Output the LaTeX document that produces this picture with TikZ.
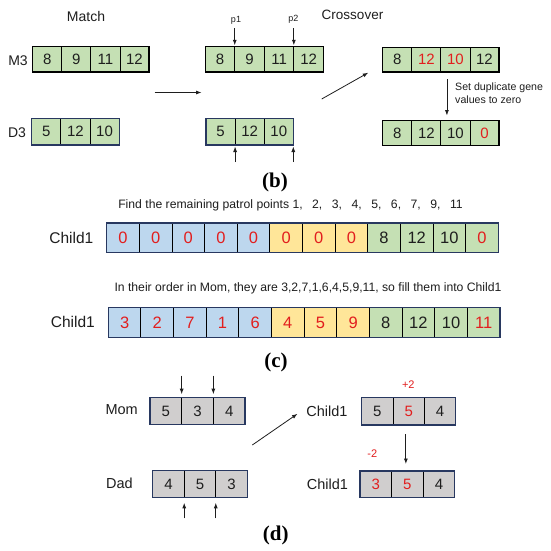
\documentclass[tikz,border=0pt]{standalone}
\usepackage{fontspec}
\setmainfont{Liberation Sans}
\newfontfamily\serifbold{Liberation Serif}
\usetikzlibrary{arrows.meta,calc}
\definecolor{cgreen}{RGB}{197,224,180}
\definecolor{cblue}{RGB}{189,215,238}
\definecolor{cyellow}{RGB}{255,230,153}
\definecolor{cgray}{RGB}{208,206,206}
\definecolor{cred}{RGB}{226,30,30}
\definecolor{cnavy}{RGB}{40,56,96}
\definecolor{ctext}{RGB}{30,30,30}
\newcommand\fwc{,\hspace{0.78em}}
% #1 prefix, #2 x0, #3 ytop, #4 cell width, #5 cell height, #6 font, #7 list fill/colour/value
\newcommand\cellrow[7]{%
  \foreach \cf/\cc/\cv [count=\ci] in {#7} {
    \node[cell, fill=\cf, text=\cc, font=#6, minimum width=#4pt, minimum height=#5pt,
          anchor=north west] (#1\ci) at ({#2+(\ci-1)*#4}, #3) {\cv};
  }%
}
\begin{document}
\begin{tikzpicture}[x=1pt,y=-1pt,
  cell/.style={draw=black, line width=0.9pt, inner sep=0pt, outer sep=0pt},
  rowblack/.style={draw=black, line width=1.2pt},
  rownavy/.style={draw=cnavy, line width=1.2pt},
  arr/.style={draw=ctext, line width=0.8pt, -{Latex[length=5.5pt,width=4pt]}},
  lab/.style={text=ctext, inner sep=0pt, font=\fontsize{14}{16}\selectfont},
  small/.style={text=ctext, inner sep=0pt, font=\fontsize{9}{11}\selectfont},
  note/.style={text=ctext, inner sep=0pt, font=\fontsize{12.2}{14}\selectfont},
  caption/.style={inner sep=0pt, font=\serifbold\bfseries\fontsize{21}{24}\selectfont},
  redmark/.style={text=cred, inner sep=0pt, font=\fontsize{11}{13}\selectfont}
]
\useasboundingbox[fill=white] (0,0) rectangle (550,551);

% ---------------- (b) ----------------
\node[lab, font=\fontsize{14}{16}\selectfont] (match) at (86,16) {Match};
\node[lab, font=\fontsize{13.5}{16}\selectfont] (cross) at (352.5,15) {Crossover};

\node[lab] (m3) at (18,60.5) {M3};
\node[lab] (d3) at (17,133) {D3};

\cellrow{ml}{32.8}{46.3}{29.05}{25.7}{\fontsize{15}{18}\selectfont}
  {cgreen/ctext/8, cgreen/ctext/9, cgreen/ctext/11, cgreen/ctext/12}
\draw[rowblack] (ml1.north west) rectangle (ml4.south east);

\cellrow{dl}{31.8}{118.3}{29.1}{26.7}{\fontsize{15}{18}\selectfont}
  {cgreen/ctext/5, cgreen/ctext/12, cgreen/ctext/10}
\draw[rownavy] (dl1.north west) rectangle (dl3.south east);

\coordinate (mstart) at (154.5,92.5);
\coordinate (mend) at (201.5,92.5);
\draw[arr] (mstart) -- (mend);

\cellrow{mm}{205.2}{46.3}{29.55}{25.7}{\fontsize{15}{18}\selectfont}
  {cgreen/ctext/8, cgreen/ctext/9, cgreen/ctext/11, cgreen/ctext/12}
\draw[rowblack] (mm1.north west) rectangle (mm4.south east);

\cellrow{dm}{206}{118.3}{29.1}{26.7}{\fontsize{15}{18}\selectfont}
  {cgreen/ctext/5, cgreen/ctext/12, cgreen/ctext/10}
\draw[rownavy] (dm1.north west) rectangle (dm3.south east);

\node[small] (p1) at (236,20.5) {p1};
\node[small] (p2) at (293.3,19.5) {p2};
\draw[arr] ($(mm1.north east)+(0,-18)$) -- ($(mm1.north east)+(0,-1)$);
\draw[arr] ($(mm3.north east)+(0,-18)$) -- ($(mm3.north east)+(0,-1)$);
\draw[arr] ($(dm1.south east)+(0,17)$) -- ($(dm1.south east)+(0,1.5)$);
\draw[arr] ($(dm3.south east)+(0,17)$) -- ($(dm3.south east)+(0,1.5)$);

\coordinate (dstart) at (321.7,99);
\coordinate (dend) at (368.3,72.7);
\draw[arr] (dstart) -- (dend);

\cellrow{ra}{382.8}{47.3}{29.05}{24.7}{\fontsize{15}{18}\selectfont}
  {cgreen/ctext/8, cgreen/cred/12, cgreen/cred/10, cgreen/ctext/12}
\draw[rowblack] (ra1.north west) rectangle (ra4.south east);

\cellrow{rb}{382.8}{120.5}{29.05}{24.7}{\fontsize{15}{18}\selectfont}
  {cgreen/ctext/8, cgreen/ctext/12, cgreen/ctext/10, cgreen/cred/0}
\draw[rowblack] (rb1.north west) rectangle (rb4.south east);

\coordinate (sdtop) at ($(ra3.south west)+(6,7)$);
\draw[arr] (sdtop) -- ($(sdtop |- rb3.north)+(0,-5)$);
\node[text=ctext, inner sep=0pt, anchor=west, align=left,
      font=\fontsize{10.6}{13.2}\selectfont] (setdup) at (455,93)
      {Set duplicate gene\\values to zero};

\node[caption] (capb) at (275,182) {(b)};

% ---------------- (c) ----------------
\node[note] (find) at (290.5,205.5)
  {Find the remaining patrol points 1\fwc 2\fwc 3\fwc 4\fwc 5\fwc 6\fwc 7\fwc 9\fwc 11};
\node[lab, font=\fontsize{15.5}{18}\selectfont] (ch1) at (71.3,238) {Child1};
\cellrow{ca}{106.7}{223}{32.63}{29.3}{\fontsize{16.5}{19}\selectfont}
  {cblue/cred/0, cblue/cred/0, cblue/cred/0, cblue/cred/0, cblue/cred/0,
   cyellow/cred/0, cyellow/cred/0, cyellow/cred/0,
   cgreen/ctext/8, cgreen/ctext/12, cgreen/ctext/10, cgreen/cred/0}
\draw[rownavy] (ca1.north west) rectangle (ca12.south east);

\node[note] (order) at (308,288.3)
  {In their order in Mom, they are 3,2,7,1,6,4,5,9,11, so fill them into Child1};
\node[lab, font=\fontsize{15.5}{18}\selectfont] (ch2) at (72.8,322) {Child1};
\cellrow{cb}{108.3}{307.7}{32.64}{29.6}{\fontsize{16.5}{19}\selectfont}
  {cblue/cred/3, cblue/cred/2, cblue/cred/7, cblue/cred/1, cblue/cred/6,
   cyellow/cred/4, cyellow/cred/5, cyellow/cred/9,
   cgreen/ctext/8, cgreen/ctext/12, cgreen/ctext/10, cgreen/cred/11}
\draw[rownavy] (cb1.north west) rectangle (cb12.south east);

\node[caption] (capc) at (276,362) {(c)};

% ---------------- (d) ----------------
\node[lab, font=\fontsize{14.5}{17}\selectfont] (mom) at (121.7,409.3) {Mom};
\cellrow{mo}{150}{397.7}{31.67}{26.6}{\fontsize{15}{18}\selectfont}
  {cgray/ctext/5, cgray/ctext/3, cgray/ctext/4}
\draw[rownavy] (mo1.north west) rectangle (mo3.south east);
\draw[arr] ($(mo1.north east)+(0,-22)$) -- ($(mo1.north east)+(0,-3.5)$);
\draw[arr] ($(mo2.north east)+(0,-22)$) -- ($(mo2.north east)+(0,-3.5)$);

\node[lab, font=\fontsize{14.5}{17}\selectfont] (chd1) at (327,411.7) {Child1};
\cellrow{ct}{361.7}{397.7}{31.33}{27.3}{\fontsize{15}{18}\selectfont}
  {cgray/ctext/5, cgray/cred/5, cgray/ctext/4}
\draw[rownavy] (ct1.north west) rectangle (ct3.south east);
\node[redmark] (plus) at (408.3,385) {+2};

\coordinate (estart) at (252.3,445);
\coordinate (eend) at (297.5,413.8);
\draw[arr] (estart) -- (eend);

\node[redmark] (minus) at (372.3,453.3) {-2};

\node[lab, font=\fontsize{14.5}{17}\selectfont] (dad) at (119.5,483.3) {Dad};
\cellrow{da}{152.7}{470.7}{31.53}{26.6}{\fontsize{15}{18}\selectfont}
  {cgray/ctext/4, cgray/ctext/5, cgray/ctext/3}
\draw[rownavy] (da1.north west) rectangle (da3.south east);
\draw[arr] ($(da1.south east)+(0,21)$) -- ($(da1.south east)+(0,5.5)$);
\draw[arr] ($(da2.south east)+(0,21)$) -- ($(da2.south east)+(0,5.5)$);

\node[lab, font=\fontsize{14.5}{17}\selectfont] (chd2) at (327.5,484) {Child1};
\cellrow{cd}{360}{471}{31.57}{26.3}{\fontsize{15}{18}\selectfont}
  {cgray/cred/3, cgray/cred/5, cgray/ctext/4}
\draw[rownavy] (cd1.north west) rectangle (cd3.south east);

\coordinate (ctdown) at ($(ct2.south east)+(-18.5,9)$);
\draw[arr] (ctdown) -- ($(ctdown |- cd2.north)+(0,-7)$);

\node[caption] (capd) at (275.7,535) {(d)};
\end{tikzpicture}
\end{document}
